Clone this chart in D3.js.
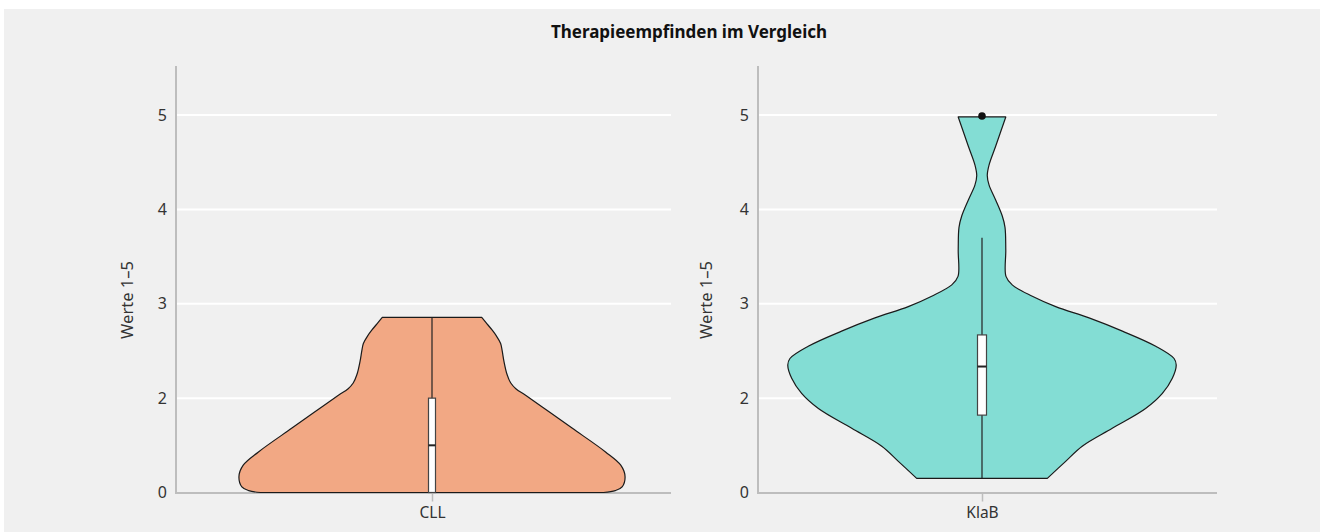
<!DOCTYPE html>
<html>
<head>
<meta charset="utf-8">
<script src="https://cdn.jsdelivr.net/npm/d3@7"></script>
<style>
  html, body { margin: 0; padding: 0; background: #fff; }
  svg { display: block; font-family: "Noto Sans", "Open Sans", sans-serif; }
</style>
</head>
<body>
<svg id="chart" width="1320" height="532"></svg>
<script>
// Therapieempfinden im Vergleich – zwei Violinplots mit Boxplot
const TITEL = 'Therapieempfinden im Vergleich';
const Y_TITEL = 'Werte 1–5';
const kategorien = ['CLL', 'KlaB'];
const farben = ['#F2A884', '#83DDD4'];

// Position der Ticks auf der Achse und ihre Beschriftung (unten steht "0")
const yTicks = [1, 2, 3, 4, 5];
const yTickLabels = ['0', '2', '3', '4', '5'];

const dichteCLL = [
  [1.00, 0.88], [1.02, 0.94], [1.06, 0.975], [1.17, 0.99], [1.29, 0.968],
  [1.43, 0.89], [1.68, 0.72], [1.85, 0.604], [2.03, 0.48], [2.10, 0.43],
  [2.16, 0.404], [2.25, 0.385], [2.39, 0.369], [2.50, 0.36], [2.58, 0.352],
  [2.66, 0.33], [2.72, 0.309], [2.80, 0.277], [2.855, 0.255]
];
const dichteKlaB = [
  [1.15, 0.335], [1.33, 0.429], [1.49, 0.514], [1.68, 0.668], [1.89, 0.839],
  [2.05, 0.925], [2.21, 0.976], [2.35, 0.996], [2.42, 0.985], [2.55, 0.891],
  [2.71, 0.72], [2.85, 0.549], [2.97, 0.378], [3.08, 0.258], [3.20, 0.155],
  [3.29, 0.123], [3.57, 0.122], [3.81, 0.118], [3.93, 0.104], [4.10, 0.070],
  [4.26, 0.036], [4.36, 0.027], [4.47, 0.036], [4.67, 0.070], [4.98, 0.122]
];
const dichten = [dichteCLL, dichteKlaB];

// Boxplot-Kennwerte je Kategorie
const whiskerUnten = [1.0, 1.15];
const quartil1 = [1.0, 1.82];
const mediane = [1.5, 2.335];
const quartil3 = [2.0, 2.67];
const whiskerOben = [2.855, 3.70];
const ausreisser = [[], [4.99]];

(function () {
  const svg = d3.select('#chart');

  // Hintergrund
  svg.append('rect')
    .attr('x', 4).attr('y', 9)
    .attr('width', 1316).attr('height', 523)
    .attr('fill', '#F0F0F0');

  svg.append('text')
    .attr('x', 689).attr('y', 38)
    .attr('text-anchor', 'middle')
    .attr('font-size', 17).attr('font-weight', 'bold')
    .attr('fill', '#111')
    .text(TITEL);

  const y = d3.scaleLinear().domain([1, 5.52]).range([492.5, 66]);
  const breite = d3.scaleLinear().domain([0, 1]).range([0, 195]);

  // Panel-Layout: Achse links, Gitterende rechts, Bereich für die Kategorie
  const panels = [
    { links: 176, rechts: 671, band: [176, 688], titelX: 127, boxB: 7 },
    { links: 758, rechts: 1217, band: [758, 1206], titelX: 706, boxB: 9 }
  ];

  panels.forEach((p, i) => {
    const g = svg.append('g');
    const x = d3.scalePoint().domain([kategorien[i]]).range(p.band).padding(0.5);
    const cx = x(kategorien[i]);

    // Gitterlinien
    g.selectAll('line.grid')
      .data(yTicks.slice(1))
      .join('line')
      .attr('x1', p.links).attr('x2', p.rechts)
      .attr('y1', (d) => y(d)).attr('y2', (d) => y(d))
      .attr('stroke', '#fff').attr('stroke-width', 2);

    // Y-Achse
    const yAchse = g.append('g')
      .attr('transform', `translate(${p.links},0)`)
      .call(d3.axisLeft(y).tickValues(yTicks)
        .tickFormat((d, k) => yTickLabels[k]).tickSize(0).tickPadding(9));
    yAchse.select('.domain').remove();
    yAchse.selectAll('text')
      .attr('font-size', 16).attr('fill', '#333')
      .attr('font-family', '"Noto Sans", sans-serif');

    g.append('line')
      .attr('x1', p.links).attr('x2', p.links)
      .attr('y1', 66).attr('y2', y(1) + 1)
      .attr('stroke', '#BDBDBD').attr('stroke-width', 2);

    // X-Achse
    const xAchse = g.append('g')
      .attr('transform', `translate(0,${y(1)})`)
      .call(d3.axisBottom(x).tickSize(9).tickPadding(5));
    xAchse.select('.domain').remove();
    xAchse.selectAll('line').attr('stroke', '#BDBDBD').attr('stroke-width', 1.5);
    xAchse.selectAll('text')
      .attr('font-size', 15.5).attr('fill', '#333')
      .attr('font-family', '"Noto Sans", sans-serif');

    g.append('line')
      .attr('x1', p.links - 1).attr('x2', p.rechts)
      .attr('y1', y(1) + 0.5).attr('y2', y(1) + 0.5)
      .attr('stroke', '#BDBDBD').attr('stroke-width', 2);

    // Achsentitel
    g.append('text')
      .attr('transform', `translate(${p.titelX},300) rotate(-90)`)
      .attr('text-anchor', 'middle')
      .attr('dy', '0.35em')
      .attr('font-size', 16.5).attr('fill', '#333')
      .text(Y_TITEL);

    // Violine
    const flaeche = d3.area()
      .y((d) => y(d[0]))
      .x0((d) => cx - breite(d[1]))
      .x1((d) => cx + breite(d[1]))
      .curve(d3.curveCatmullRom.alpha(0.5));

    g.append('path')
      .datum(dichten[i])
      .attr('d', flaeche)
      .attr('fill', farben[i])
      .attr('stroke', '#1a1a1a')
      .attr('stroke-width', 1.2)
      .attr('stroke-linejoin', 'round');

    // Whisker
    g.append('line')
      .attr('x1', cx).attr('x2', cx)
      .attr('y1', y(whiskerUnten[i])).attr('y2', y(whiskerOben[i]))
      .attr('stroke', '#222').attr('stroke-width', 1.2);

    // Box
    g.append('rect')
      .attr('x', cx - p.boxB / 2).attr('width', p.boxB)
      .attr('y', y(quartil3[i]))
      .attr('height', y(quartil1[i]) - y(quartil3[i]))
      .attr('fill', '#fff')
      .attr('stroke', '#444').attr('stroke-width', 1.2);

    g.append('line')
      .attr('x1', cx - p.boxB / 2).attr('x2', cx + p.boxB / 2)
      .attr('y1', y(mediane[i])).attr('y2', y(mediane[i]))
      .attr('stroke', '#222').attr('stroke-width', 2);

    // Ausreißer
    g.selectAll('circle.aus')
      .data(ausreisser[i])
      .join('circle')
      .attr('cx', cx).attr('cy', (d) => y(d))
      .attr('r', 3.8)
      .attr('fill', '#111');
  });
})();
</script>
</body>
</html>
